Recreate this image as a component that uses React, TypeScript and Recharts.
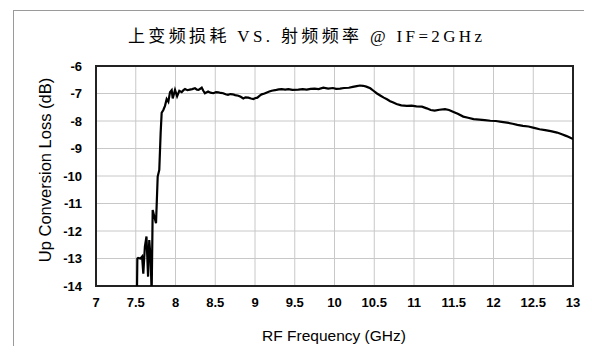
import { LineChart, Line, XAxis, YAxis, CartesianGrid, ReferenceArea } from "recharts";

const freqGHz = [
  7.515, 7.52, 7.53, 7.56, 7.58, 7.595, 7.615, 7.635, 7.655, 7.67, 7.688, 7.7,
  7.713, 7.734, 7.755, 7.776, 7.796, 7.813, 7.826, 7.847, 7.868, 7.889, 7.91,
  7.931, 7.952, 7.965, 7.994, 8.02, 8.048, 8.078, 8.1, 8.12, 8.15, 8.18, 8.21,
  8.245, 8.27, 8.29, 8.33, 8.35, 8.37, 8.41, 8.44, 8.475, 8.51, 8.54, 8.57, 8.6,
  8.63, 8.66, 8.69, 8.72, 8.75, 8.79, 8.82, 8.853, 8.88, 8.916, 8.95, 8.98, 9.0,
  9.03, 9.06, 9.084, 9.12, 9.15, 9.18, 9.21, 9.27, 9.3, 9.336, 9.38, 9.42, 9.47,
  9.545, 9.6, 9.65, 9.7, 9.75, 9.8, 9.86, 9.92, 9.98, 10.02, 10.07, 10.12, 10.18,
  10.23, 10.28, 10.32, 10.36, 10.4, 10.45, 10.49, 10.53, 10.58, 10.62, 10.66,
  10.7, 10.74, 10.78, 10.84, 10.91, 10.97, 11.03, 11.1, 11.16, 11.21, 11.26,
  11.32, 11.39, 11.44, 11.49, 11.55, 11.62, 11.68, 11.75, 11.82, 11.89, 11.96,
  12.03, 12.1, 12.17, 12.24, 12.3, 12.37, 12.44, 12.51, 12.58, 12.65, 12.72, 12.8,
  12.86, 12.92, 12.98, 13.0,
];

const lossDb = [
  -14.3, -13.0, -12.98, -13.0, -12.93, -13.55, -12.57, -12.2, -13.66, -12.33, -13.05, -14.3,
  -11.24, -11.48, -11.72, -10.02, -9.78, -8.45, -7.7, -7.6, -7.45, -7.2, -7.3,
  -6.95, -6.88, -7.18, -6.87, -7.1, -6.9, -6.95, -6.88, -6.84, -6.88, -6.86, -6.84,
  -6.81, -6.86, -6.87, -6.79, -6.9, -6.99, -6.93, -6.97, -6.99, -6.95, -6.96, -6.98, -6.99,
  -7.03, -7.05, -7.02, -7.03, -7.06, -7.08, -7.12, -7.18, -7.14, -7.15, -7.18, -7.2, -7.17,
  -7.15, -7.08, -7.03, -7.0, -6.96, -6.93, -6.9, -6.87, -6.85, -6.84, -6.86, -6.84, -6.87,
  -6.86, -6.84, -6.86, -6.83, -6.82, -6.84, -6.79, -6.82, -6.8, -6.83, -6.82, -6.8, -6.79,
  -6.76, -6.73, -6.71, -6.72, -6.75, -6.81, -6.9, -6.99, -7.08, -7.15, -7.21,
  -7.28, -7.33, -7.38, -7.43, -7.45, -7.44, -7.47, -7.48, -7.54, -7.6, -7.62,
  -7.59, -7.57, -7.6, -7.66, -7.74, -7.84, -7.88, -7.93, -7.95, -7.97, -7.99,
  -8.0, -8.03, -8.06, -8.1, -8.14, -8.18, -8.2, -8.25, -8.3, -8.33, -8.37, -8.42,
  -8.48, -8.55, -8.63, -8.65,
];

const xTicks = [7, 7.5, 8, 8.5, 9, 9.5, 10, 10.5, 11, 11.5, 12, 12.5, 13];
const yTicks = [-14, -13, -12, -11, -10, -9, -8, -7, -6];

const data = freqGHz.map((f, i) => ({ f, loss: lossDb[i] }));

const sans = '"Liberation Sans", Arial, sans-serif';
const tickStyle = { fontSize: 13, fontWeight: 700, fill: "#000", fontFamily: sans };

export default function App() {
  return (
    <div style={{ position: "relative", width: 592, height: 354, margin: -8, background: "#fff" }}>
      <div
        style={{
          position: "absolute",
          left: 13,
          top: 10,
          right: 0,
          bottom: 0,
          borderTop: "1px solid #9a9a9a",
          borderLeft: "1px solid #9a9a9a",
        }}
      />
      <LineChart
        width={592}
        height={354}
        data={data}
        margin={{ top: 66, right: 19, bottom: 38, left: 36 }}
        style={{ position: "absolute", left: 0, top: 0 }}
      >
        <CartesianGrid stroke="#c8c8c8" strokeWidth={1} />
        <XAxis
          dataKey="f"
          type="number"
          domain={[7, 13]}
          ticks={xTicks}
          allowDataOverflow
          axisLine={false}
          tickLine={false}
          tickSize={0}
          tickMargin={12}
          height={30}
          tick={tickStyle}
          interval={0}
        />
        <YAxis
          type="number"
          domain={[-14, -6]}
          ticks={yTicks}
          allowDataOverflow
          axisLine={false}
          tickLine={false}
          tickSize={0}
          tickMargin={14}
          width={60}
          tick={tickStyle}
          interval={0}
        />
        <ReferenceArea x1={7} x2={13} y1={-14} y2={-6} fill="none" stroke="#222" strokeWidth={2} />
        <Line
          dataKey="loss"
          type="linear"
          stroke="#000"
          strokeWidth={2.2}
          dot={false}
          isAnimationActive={false}
        />
      </LineChart>
      <svg width={592} height={354} style={{ position: "absolute", left: 0, top: 0, pointerEvents: "none" }}>
        <text
          x={128}
          y={42}
          textLength={354}
          lengthAdjust="spacing"
          fontSize={17}
          fontFamily={'"Liberation Serif", "Noto Sans CJK SC", serif'}
          fill="#000"
        >
          上变频损耗 VS. 射频频率 @ IF=2GHz
        </text>
        <text
          x={0}
          y={0}
          transform="translate(51,170) rotate(-90)"
          textAnchor="middle"
          fontSize={16.5}
          fontFamily={sans}
          fill="#000"
        >
          Up Conversion Loss (dB)
        </text>
        <text x={334} y={341} textAnchor="middle" fontSize={15.5} fontFamily={sans} fill="#000">
          RF Frequency (GHz)
        </text>
      </svg>
    </div>
  );
}
